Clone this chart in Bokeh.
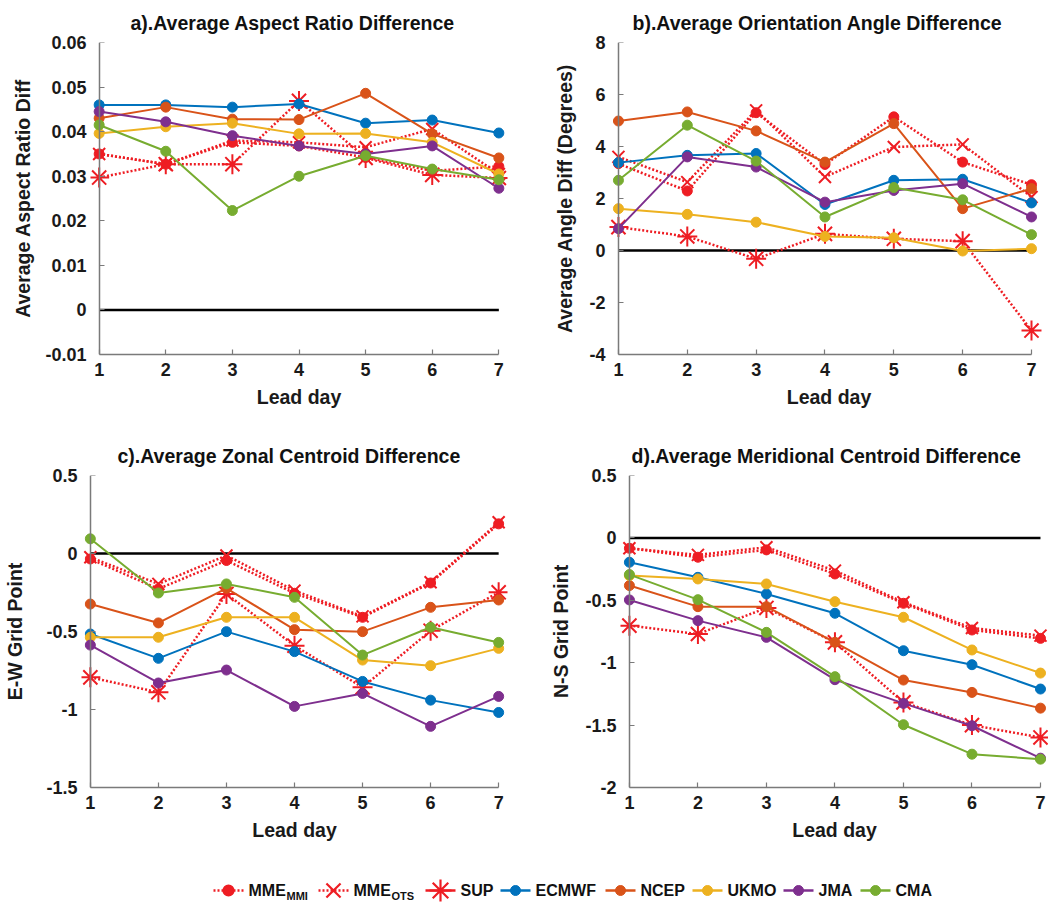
from bokeh.plotting import figure
from bokeh.models import Range1d, FixedTicker, LinearAxis
from bokeh.layouts import column, row
from bokeh.embed import file_html
from bokeh.resources import INLINE
from bokeh.core.properties import value

# ---------------- data ----------------
lead_days = [1, 2, 3, 4, 5, 6, 7]
series_names = ["MME_MMI", "MME_OTS", "SUP", "ECMWF", "NCEP", "UKMO", "JMA", "CMA"]

# a) Average Aspect Ratio Difference
a_mmi   = [0.0350, 0.0327, 0.0376, 0.0368, 0.0342, 0.0312, 0.0322]
a_ots   = [0.0350, 0.0327, 0.0380, 0.0376, 0.0365, 0.0406, 0.0305]
a_sup   = [0.0297, 0.0327, 0.0327, 0.0469, 0.0341, 0.0303, 0.0296]
a_ecmwf = [0.0460, 0.0460, 0.0455, 0.0462, 0.0419, 0.0426, 0.0397]
a_ncep  = [0.0430, 0.0455, 0.0428, 0.0427, 0.0486, 0.0395, 0.0341]
a_ukmo  = [0.0396, 0.0411, 0.0419, 0.0395, 0.0396, 0.0376, 0.0305]
a_jma   = [0.0445, 0.0422, 0.0391, 0.0368, 0.0350, 0.0368, 0.0273]
a_cma   = [0.0415, 0.0356, 0.0223, 0.0300, 0.0346, 0.0316, 0.0292]
a_yticks = [-0.01, 0, 0.01, 0.02, 0.03, 0.04, 0.05, 0.06]
a_ylabels = ["-0.01", "0", "0.01", "0.02", "0.03", "0.04", "0.05", "0.06"]

# b) Average Orientation Angle Difference
b_mmi   = [3.34, 2.29, 5.30, 3.31, 5.14, 3.40, 2.53]
b_ots   = [3.60, 2.63, 5.39, 2.83, 3.98, 4.08, 2.06]
b_sup   = [0.90, 0.54, -0.32, 0.64, 0.45, 0.36, -3.08]
b_ecmwf = [3.38, 3.66, 3.73, 1.77, 2.70, 2.74, 1.83]
b_ncep  = [4.98, 5.33, 4.60, 3.40, 4.88, 1.61, 2.38]
b_ukmo  = [1.61, 1.39, 1.09, 0.54, 0.49, -0.02, 0.07]
b_jma   = [0.84, 3.60, 3.21, 1.86, 2.31, 2.57, 1.29]
b_cma   = [2.70, 4.82, 3.44, 1.29, 2.42, 1.95, 0.61]
b_yticks = [-4, -2, 0, 2, 4, 6, 8]
b_ylabels = ["-4", "-2", "0", "2", "4", "6", "8"]

# c) Average Zonal Centroid Difference
c_mmi   = [-0.035, -0.227, -0.045, -0.255, -0.409, -0.189, 0.190]
c_ots   = [-0.024, -0.195, -0.013, -0.238, -0.403, -0.184, 0.200]
c_sup   = [-0.794, -0.890, -0.259, -0.591, -0.858, -0.495, -0.249]
c_ecmwf = [-0.516, -0.672, -0.501, -0.629, -0.820, -0.940, -1.019]
c_ncep  = [-0.324, -0.445, -0.223, -0.488, -0.501, -0.345, -0.298]
c_ukmo  = [-0.537, -0.537, -0.409, -0.409, -0.683, -0.719, -0.608]
c_jma   = [-0.587, -0.830, -0.747, -0.980, -0.897, -1.108, -0.916]
c_cma   = [0.094, -0.253, -0.195, -0.281, -0.651, -0.473, -0.570]
c_yticks = [-1.5, -1, -0.5, 0, 0.5]
c_ylabels = ["-1.5", "-1", "-0.5", "0", "0.5"]

# d) Average Meridional Centroid Difference
d_mmi   = [-0.083, -0.155, -0.096, -0.289, -0.524, -0.738, -0.805]
d_ots   = [-0.083, -0.136, -0.075, -0.262, -0.516, -0.722, -0.783]
d_sup   = [-0.703, -0.770, -0.561, -0.837, -1.318, -1.500, -1.599]
d_ecmwf = [-0.195, -0.316, -0.449, -0.604, -0.904, -1.016, -1.211]
d_ncep  = [-0.382, -0.551, -0.551, -0.837, -1.139, -1.238, -1.364]
d_ukmo  = [-0.302, -0.329, -0.369, -0.511, -0.636, -0.898, -1.083]
d_jma   = [-0.497, -0.663, -0.797, -1.136, -1.326, -1.505, -1.765]
d_cma   = [-0.294, -0.495, -0.757, -1.112, -1.497, -1.733, -1.773]
d_yticks = [-2, -1.5, -1, -0.5, 0, 0.5]
d_ylabels = ["-2", "-1.5", "-1", "-0.5", "0", "0.5"]

# ---------------- style ----------------
FONT = "Liberation Sans"
RED = "#EE1D23"
MODEL_COLORS = {"ECMWF": "#0072BD", "NCEP": "#D95319", "UKMO": "#EDB120",
                "JMA": "#7E2F8E", "CMA": "#77AC30"}
AXIS_COLOR = "#7a7a7a"
TEXT_COLOR = "#1a1a1a"


def style_text(ax):
    ax.major_label_text_font = FONT
    ax.major_label_text_font_size = "18px"
    ax.major_label_text_font_style = "bold"
    ax.major_label_text_color = TEXT_COLOR
    ax.axis_label_text_font = FONT
    ax.axis_label_text_font_size = "19.5px"
    ax.axis_label_text_font_style = "bold"
    ax.axis_label_text_color = TEXT_COLOR


def make_panel(title, title_offset, ylabel, ylabel_standoff, series, yticks, ylabels,
               width, height, borders, pad_left, pad_right):
    bl, br, bt, bb = borders
    p = figure(width=width, height=height,
               x_range=Range1d(lead_days[0] - pad_left, lead_days[-1] + pad_right),
               y_range=Range1d(yticks[0], yticks[-1]),
               output_backend="svg", toolbar_location=None,
               min_border_left=bl, min_border_right=br,
               min_border_top=bt, min_border_bottom=bb)
    p.outline_line_color = None
    p.xgrid.visible = False
    p.ygrid.visible = False

    p.title.text = title
    p.title.align = "left"
    p.title.offset = title_offset
    p.title.text_font = FONT
    p.title.text_font_size = "19.5px"
    p.title.text_font_style = "bold"
    p.title.text_color = "#111111"
    p.title.standoff = 18

    # x axis (bottom, spans lead days only)
    xa = p.xaxis[0]
    xa.bounds = (lead_days[0], lead_days[-1])
    xa.ticker = FixedTicker(ticks=lead_days)
    xa.major_label_overrides = {d: str(d) for d in lead_days}
    xa.axis_label = "Lead day"
    xa.axis_line_color = AXIS_COLOR
    xa.axis_line_width = 1.5
    xa.major_tick_line_color = AXIS_COLOR
    xa.major_tick_line_width = 1.2
    xa.major_tick_in = 5
    xa.major_tick_out = 0
    xa.minor_tick_line_color = None
    xa.major_label_standoff = 8
    xa.axis_label_standoff = 7
    style_text(xa)

    # y axis labels (at frame edge, line hidden)
    ya = p.yaxis[0]
    ya.ticker = FixedTicker(ticks=yticks)
    ya.major_label_overrides = {t: l for t, l in zip(yticks, ylabels)}
    ya.axis_label = ylabel
    ya.axis_line_color = None
    ya.major_tick_line_color = None
    ya.minor_tick_line_color = None
    ya.major_tick_in = 0
    ya.major_tick_out = 0
    ya.major_label_standoff = 4
    ya.axis_label_standoff = ylabel_standoff
    style_text(ya)

    # y axis line + ticks drawn at lead day 1
    yline = LinearAxis(fixed_location=lead_days[0], ticker=FixedTicker(ticks=yticks),
                       axis_line_color=AXIS_COLOR, axis_line_width=1.5,
                       major_tick_line_color=AXIS_COLOR, major_tick_line_width=1.2,
                       major_tick_in=5, major_tick_out=0, minor_tick_line_color=None,
                       major_label_text_alpha=0, major_label_text_font_size="1px")
    p.add_layout(yline, "left")

    # zero reference line
    p.line([lead_days[0], lead_days[-1]], [0, 0], line_color="black", line_width=2.5)

    # ensemble / superensemble series (red dotted)
    p.line(lead_days, series["SUP"], line_color=RED, line_dash="2 2", line_width=2.5)
    p.scatter(lead_days, series["SUP"], marker="asterisk", size=20,
              line_color=RED, line_width=2)
    p.line(lead_days, series["MME_OTS"], line_color=RED, line_dash="2 2", line_width=2.5)
    p.scatter(lead_days, series["MME_OTS"], marker="x", size=17,
              line_color=RED, line_width=2)
    p.line(lead_days, series["MME_MMI"], line_color=RED, line_dash="2 2", line_width=2.5)
    p.scatter(lead_days, series["MME_MMI"], marker="circle", size=10,
              fill_color=RED, line_color=RED)

    for name in ["ECMWF", "NCEP", "UKMO", "JMA", "CMA"]:
        col = MODEL_COLORS[name]
        p.line(lead_days, series[name], line_color=col, line_width=2)
        p.scatter(lead_days, series[name], marker="circle", size=10,
                  fill_color=col, line_color=col)
    return p


def pack(mmi, ots, sup, ecmwf, ncep, ukmo, jma, cma):
    return dict(zip(series_names, [mmi, ots, sup, ecmwf, ncep, ukmo, jma, cma]))


pa = make_panel("a).Average Aspect Ratio Difference", 40, "Average Aspect Ratio Diff", 8,
                pack(a_mmi, a_ots, a_sup, a_ecmwf, a_ncep, a_ukmo, a_jma, a_cma),
                a_yticks, a_ylabels, 540, 420, (90, 33, 42, 66), 0.13, 0.13)
pb = make_panel("b).Average Orientation Angle Difference", 23, "Average Angle Diff (Degrees)", 10,
                pack(b_mmi, b_ots, b_sup, b_ecmwf, b_ncep, b_ukmo, b_jma, b_cma),
                b_yticks, b_ylabels, 508, 420, (69, 0, 42, 66), 0.13, 0.247)
pc = make_panel("c).Average Zonal Centroid Difference", 36, "E-W Grid Point", 17,
                pack(c_mmi, c_ots, c_sup, c_ecmwf, c_ncep, c_ukmo, c_jma, c_cma),
                c_yticks, c_ylabels, 540, 425, (81, 33, 55, 58), 0.13, 0.13)
pd_ = make_panel("d).Average Meridional Centroid Difference", 11, "N-S Grid Point", 10,
                 pack(d_mmi, d_ots, d_sup, d_ecmwf, d_ncep, d_ukmo, d_jma, d_cma),
                 d_yticks, d_ylabels, 508, 425, (80, 0, 55, 58), 0.13, 0.117)

# ---------------- legend strip ----------------
leg = figure(width=1048, height=60, x_range=Range1d(0, 1048), y_range=Range1d(60, 0),
             output_backend="svg", toolbar_location=None,
             x_axis_type=None, y_axis_type=None, min_border=0)
leg.outline_line_color = None
leg.xgrid.visible = False
leg.ygrid.visible = False

leg_x0 = [213, 318, 425, 500, 605, 692, 783, 860]
leg_main = ["MME", "MME", "SUP", "ECMWF", "NCEP", "UKMO", "JMA", "CMA"]
leg_sub = ["MMI", "OTS", "", "", "", "", "", ""]
leg_y = 45
for i, name in enumerate(series_names):
    x0 = leg_x0[i]
    if i < 3:
        col = RED
        dash = "2 2" if i < 2 else "solid"
        leg.line([x0, x0 + 30], [leg_y, leg_y], line_color=col, line_dash=dash, line_width=2.5)
        mk, sz = [("circle", 10), ("x", 20), ("asterisk", 22)][i]
        leg.scatter([x0 + 15], [leg_y], marker=mk, size=sz, line_color=col,
                    fill_color=col, line_width=2.2)
    else:
        col = MODEL_COLORS[name]
        leg.line([x0, x0 + 30], [leg_y, leg_y], line_color=col, line_width=2.5)
        leg.scatter([x0 + 15], [leg_y], marker="circle", size=10, line_color=col, fill_color=col)
    leg.text([x0 + 35], [leg_y], text=[leg_main[i]], text_font=value(FONT),
             text_font_size="16px", text_font_style="bold", text_baseline="middle",
             text_color="#111111")
    if leg_sub[i]:
        leg.text([x0 + 73], [leg_y + 5], text=[leg_sub[i]], text_font=value(FONT),
                 text_font_size="11px", text_font_style="bold", text_baseline="middle",
                 text_color="#111111")

layout = column(row(pa, pb), row(pc, pd_), leg)
open("out.html", "w").write(file_html(layout, INLINE))
